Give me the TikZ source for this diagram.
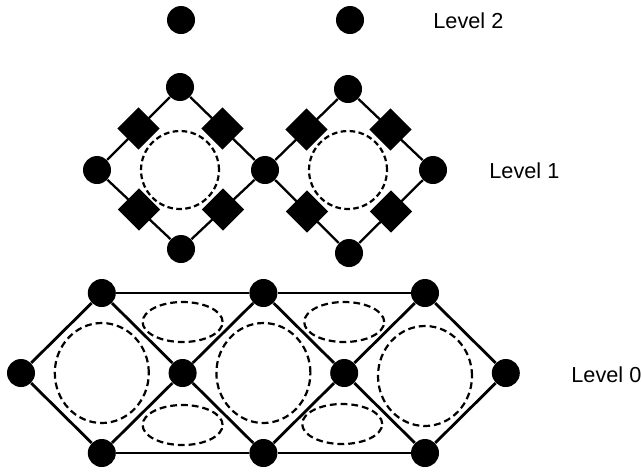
\documentclass[tikz,border=0pt]{standalone}
\usepackage{fontspec}
\setmainfont{Liberation Sans}
\usetikzlibrary{positioning}
\usetikzlibrary{shapes.geometric}
\tikzset{
  dot/.style={
    circle,
    fill=black,
    inner sep=0pt,
    minimum size=14pt
  },
  sq/.style={
    diamond,
    fill=black,
    inner sep=0pt,
    minimum size=21.5pt
  },
  hole/.style={
    dashed,
    dash pattern=on 3.4pt off 2pt,
    line width=1.1pt
  },
  lvl/.style={
    anchor=west,
    inner sep=0pt,
    font=\fontsize{10.85}{13}\selectfont
  }
}

\begin{document}
\begin{tikzpicture}[x=0.5pt,y=-0.5pt]
        \useasboundingbox (0,0) rectangle (642,473);
        % level 2
        \node [dot] (T1) at (181,20) {};
        \node [dot] (T2) at (350,20) {};
        \node [lvl] (L2) at (433,21) {Level 2};
        % level 1
        \node [dot] (C) at (265,170) {};
        \node [dot, on grid, above left=41.5pt and 42.5pt of C] (At) {};
        \node [dot, on grid, left=84pt of C] (Al) {};
        \node [dot, on grid, below left=39.5pt and 42pt of C] (Ab) {};
        \node [dot, on grid, above right=40.5pt and 41.5pt of C] (Bt) {};
        \node [dot, on grid, right=84pt of C] (Br) {};
        \node [dot, on grid, below right=41.5pt and 42pt of C] (Bb) {};
        \begin{scope}[line width=1.15pt]
          \draw (At) -- node [sq] (sA1) {} (Al);
          \draw (Al) -- node [sq] (sA2) {} (Ab);
          \draw (Ab) -- node [sq] (sA3) {} (C);
          \draw (C) -- node [sq] (sA4) {} (At);
          \draw (Bt) -- node [sq] (sB1) {} (C);
          \draw (C) -- node [sq] (sB2) {} (Bb);
          \draw (Bb) -- node [sq] (sB3) {} (Br);
          \draw (Br) -- node [sq] (sB4) {} (Bt);
        \end{scope}
        \draw [hole, dash pattern=on 2.8pt off 1.7pt] (At |- Al) circle (19.5pt);
        \draw [hole, dash pattern=on 2.8pt off 1.7pt] (Bt |- Br) circle (19.5pt);
        \node [lvl] (L1) at (489,171) {Level 1};
        % level 0
        \node [dot] (M0) at (21,373) {};
        \node [dot, on grid, above right=40pt and 40.4pt of M0] (P1) {};
        \node [dot, on grid, below right=40pt and 40.4pt of M0] (Q1) {};
        \node [dot, on grid, below right=40pt and 40.4pt of P1] (M1) {};
        \node [dot, on grid, above right=40pt and 40.4pt of M1] (P2) {};
        \node [dot, on grid, below right=40pt and 40.4pt of M1] (Q2) {};
        \node [dot, on grid, below right=40pt and 40.4pt of P2] (M2) {};
        \node [dot, on grid, above right=40pt and 40.4pt of M2] (P3) {};
        \node [dot, on grid, below right=40pt and 40.4pt of M2] (Q3) {};
        \node [dot, on grid, below right=40pt and 40.4pt of P3] (M3) {};
        \begin{scope}[line width=1.4pt]
          \draw (P1) -- (P2) -- (P3);
          \draw (Q1) -- (Q2) -- (Q3);
          \draw (P1) -- (M0) -- (Q1);
          \draw (P1) -- (M1) -- (Q1);
          \draw (P2) -- (M1) -- (Q2);
          \draw (P2) -- (M2) -- (Q2);
          \draw (P3) -- (M2) -- (Q3);
          \draw (P3) -- (M3) -- (Q3);
        \end{scope}
        \draw [hole] (P1 |- M0) ellipse (23.5pt and 25pt);
        \draw [hole] (P2 |- M0) ellipse (23.5pt and 25pt);
        \draw [hole] ([yshift=-1.5pt]P3 |- M0) ellipse (23.5pt and 25pt);
        \draw [hole] ([yshift=25.5pt]M1) ellipse (20pt and 10pt);
        \draw [hole] ([yshift=-26pt]M1) ellipse (20pt and 10pt);
        \draw [hole] ([yshift=25.5pt]M2) ellipse (20pt and 10pt);
        \draw [hole] ([xshift=-1pt,yshift=-25.5pt]M2) ellipse (20pt and 10pt);
        \node [lvl] (L0) at (571,375) {Level 0};
\end{tikzpicture}
\end{document}
